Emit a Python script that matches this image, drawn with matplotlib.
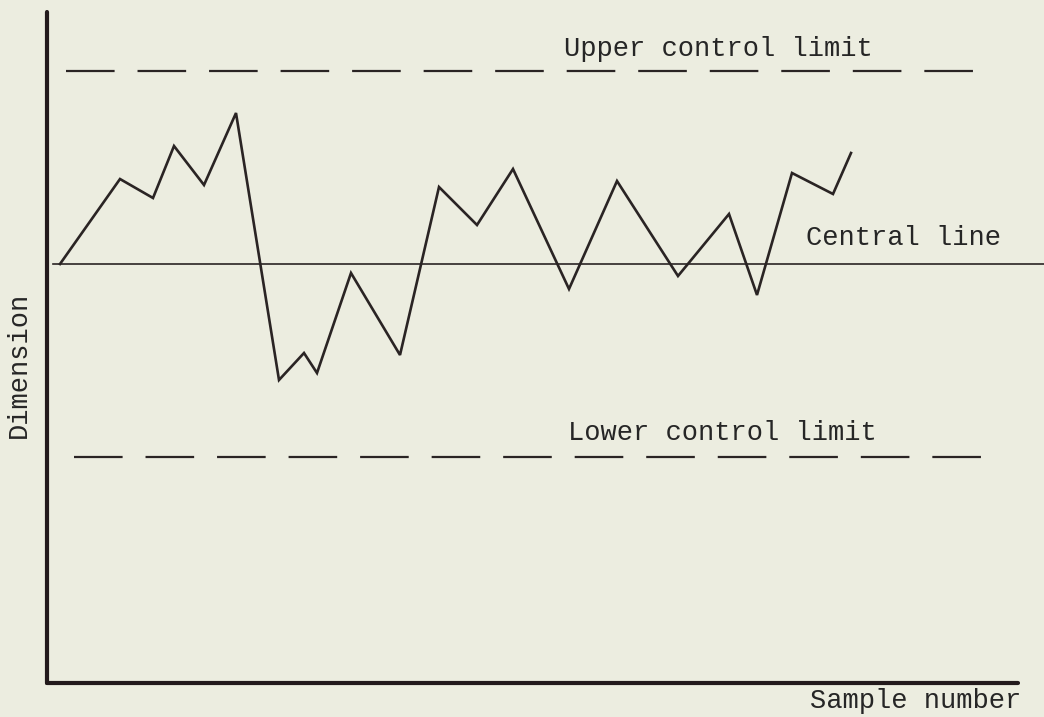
import numpy as np
import matplotlib
matplotlib.use("Agg")
import matplotlib.pyplot as plt

plt.rcParams['font.family'] = ['Liberation Mono', 'DejaVu Sans Mono']
plt.rcParams['lines.scale_dashes'] = False

# sample positions and measured dimension (centred on the central line)
sample_x = [1.3, 7.3, 10.6, 12.7, 15.7, 18.9, 23.2, 25.7, 27.0, 30.4, 35.3,
            39.2, 43.0, 46.6, 52.2, 57.0, 63.1, 68.2, 71.0, 74.5, 78.6, 80.4]
dimension = [0.0, 8.5, 6.6, 11.8, 7.9, 15.1, -11.6, -8.9, -10.9, -0.9, -9.1,
             7.7, 3.9, 9.5, -2.5, 8.3, -1.2, 5.0, -3.1, 9.1, 7.0, 11.1]

center = 0.0
ucl = 19.3
lcl = -19.3
ucl_span = [1.9, 92.8]
lcl_span = [2.7, 94.1]
center_span = [0.6, 99.7]

bg = '#ecede0'
ink = '#2a2424'

fig = plt.figure(figsize=(10.44, 7.17), dpi=100, facecolor=bg)
ax = fig.add_axes([47/1044, (717-683)/717, (1018-47)/1044, (683-12)/717])
ax.set_facecolor(bg)
ax.set_xlim(0, 97.1)
ax.set_ylim(-41.9, 25.2)

# control limits
ax.plot(ucl_span, [ucl, ucl], color=ink, lw=1.6, dashes=(35, 16.5))
ax.plot(lcl_span, [lcl, lcl], color=ink, lw=1.6, dashes=(35, 16.5))
ax.plot(center_span, [center, center], color=ink, lw=1.2, clip_on=False)

# sample trace
ax.plot(sample_x, dimension, color=ink, lw=1.9, solid_joinstyle='miter')

# axes: only left and bottom
for s in ['top', 'right']:
    ax.spines[s].set_visible(False)
for s in ['left', 'bottom']:
    ax.spines[s].set_linewidth(3.0)
    ax.spines[s].set_color('#231a1c')
    ax.spines[s].set_capstyle('round')
ax.set_xticks([])
ax.set_yticks([])

fs = 19.5
tc = '#262626'
ax.text(51.7, 20.8, 'Upper control limit', fontsize=fs, color=tc, va='baseline')
ax.text(52.1, -17.6, 'Lower control limit', fontsize=fs, color=tc, va='baseline')
ax.text(75.9, 1.9, 'Central line', fontsize=fs, color=tc, va='baseline')
ax.text(76.3, -44.4, 'Sample number', fontsize=fs, color=tc, va='baseline',
        clip_on=False)
ax.text(-2.8, -10.1, 'Dimension', fontsize=fs, color=tc, rotation=90,
        ha='center', va='center', clip_on=False)

fig.savefig('out.png', dpi=100, facecolor=bg)
